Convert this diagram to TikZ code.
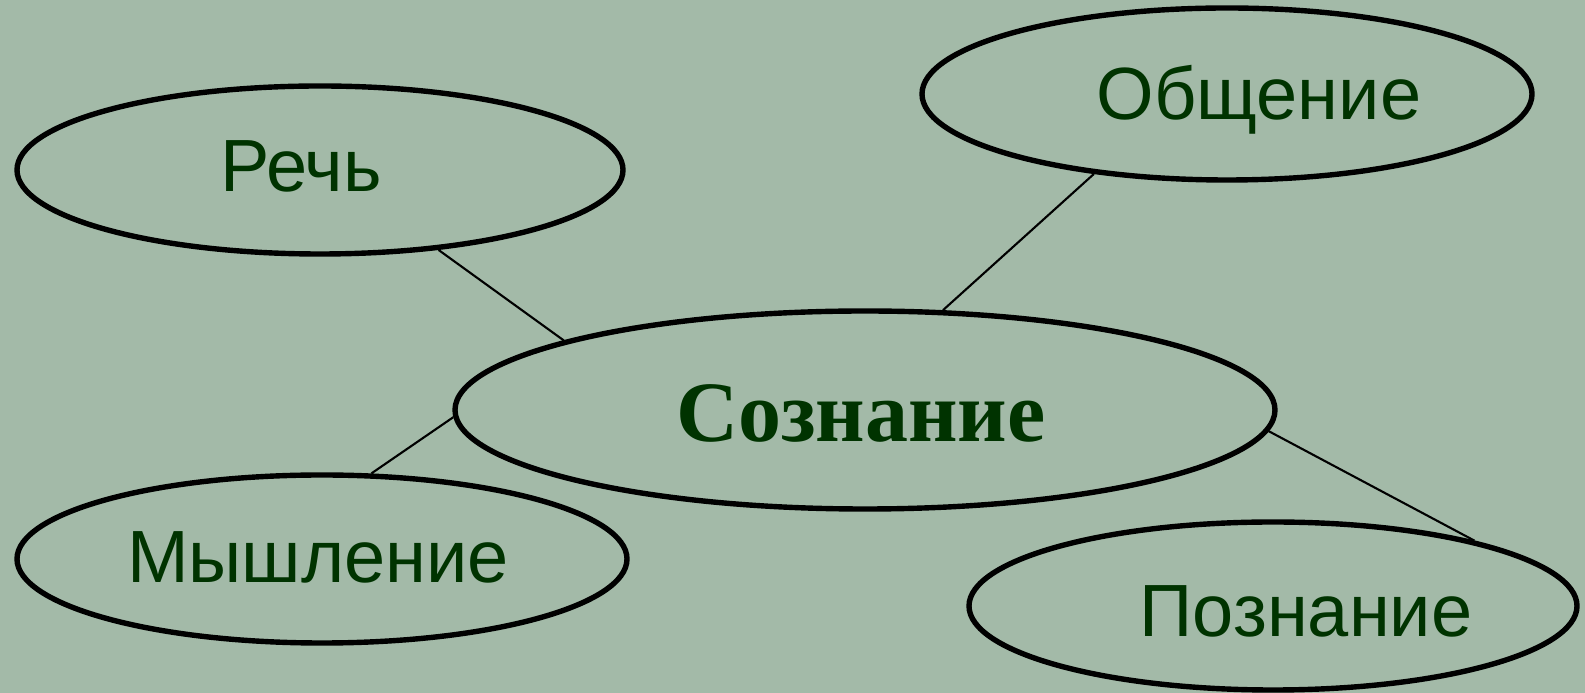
\documentclass[tikz,border=0pt]{standalone}
\usepackage{fontspec}
\setmainfont{Liberation Sans}
\newfontfamily\serifbold{Liberation Serif}
\usetikzlibrary{shapes.geometric}
\definecolor{bgc}{HTML}{A3BAA8}
\definecolor{txt}{HTML}{003300}
\tikzset{
  oval/.style={ellipse, draw=black, line width=5.4pt, inner sep=0pt},
  lbl/.style={text=txt, font=\fontsize{74}{84}\selectfont, anchor=base, inner sep=0pt},
  link/.style={draw=black, line width=2.1pt}
}
\begin{document}
\begin{tikzpicture}[x=1pt,y=1pt]
\fill[bgc] (0,0) rectangle (1585,693);
\useasboundingbox (0,0) rectangle (1585,693);
\node[oval, minimum width=606pt, minimum height=168pt] (rech) at (320,523) {};
\node[oval, minimum width=610pt, minimum height=172pt] (obsh) at (1227,599) {};
\node[oval, minimum width=820pt, minimum height=198pt] (soz) at (865,283) {};
\node[oval, minimum width=610pt, minimum height=168pt] (mysh) at (322,134) {};
\node[oval, minimum width=608pt, minimum height=168pt] (pozn) at (1273,87) {};
\node[lbl] (trech) at (301,501) {Речь};
\node[lbl] (tobsh) at (1259,573) {Общение};
\node[lbl, font=\serifbold\bfseries\fontsize{86}{96}\selectfont] (tsoz) at (861,251) {Сознание};
\node[lbl] (tmysh) at (318,110) {Мышление};
\node[lbl] (tpozn) at (1306,56) {Познание};
\draw[link] (rech.-34.5) -- (soz.167.7);
\draw[link] (obsh.211.9) -- (soz.52.3);
\draw[link] (mysh.60.2) -- (soz.181.4);
\draw[link] (pozn.18.2) -- (soz.-3.5);
\end{tikzpicture}
\end{document}
